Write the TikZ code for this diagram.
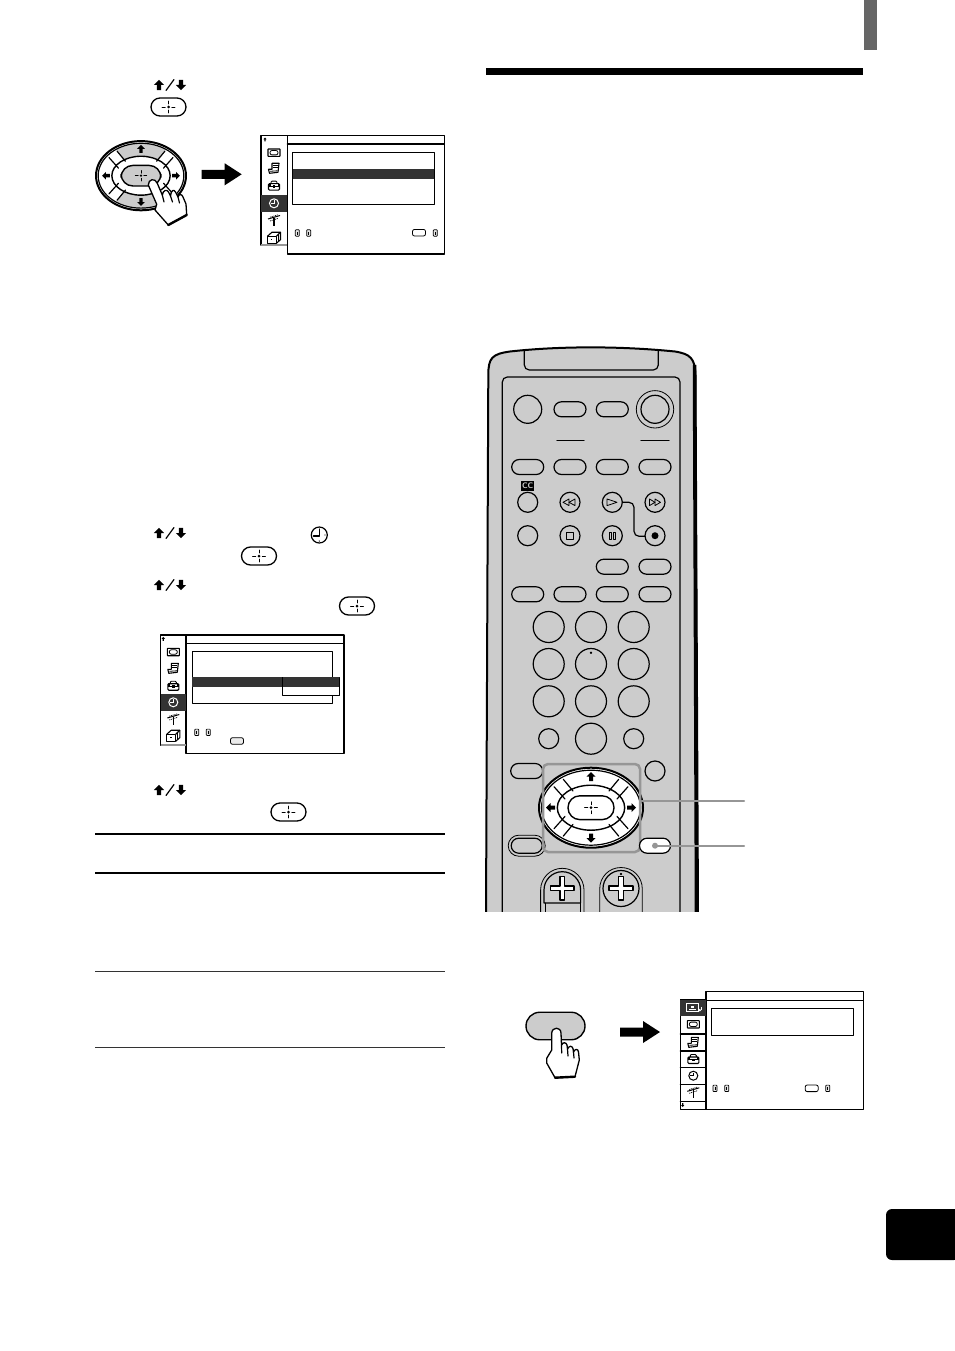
\documentclass[tikz,border=0pt]{standalone}
\usepackage{xcolor}
\usepackage{tikz}

\definecolor{fillColor}{RGB}{255,255,255}
\definecolor{drawColor}{RGB}{0,0,0}
\definecolor{bodyColor}{RGB}{204,204,204}
\definecolor{leadColor}{RGB}{150,150,150}
\definecolor{darkColor}{RGB}{51,51,51}
\definecolor{barColor}{RGB}{102,102,102}

\tikzset{
  ink/.style={draw=drawColor,line width=1.2pt,line join=round,line cap=round},
  thinink/.style={draw=drawColor,line width=0.8pt,line join=round,line cap=round},
  lead/.style={draw=leadColor,line width=2pt,line cap=round},
  key/.style={ink,fill=bodyColor}
}

% one rounded key: x, y, width, height
\newcommand{\pillkey}[5][key]{\path[#1,rounded corners=#5/2*1pt] ({#2-#4/2},{#3-#5/2}) rectangle ({#2+#4/2},{#3+#5/2});}
\newcommand{\roundkey}[3]{\path[key] (#1,#2) circle (#3);}
\newcommand{\crosshair}[2]{
\begin{scope}[shift={(#1,#2)}]
\path[fill=drawColor] (0,0) circle (1.5);
\path[thinink] (-6.5,0) -- (-3.2,0);
\path[thinink] ( 3.2,0) -- ( 6.5,0);
\path[thinink] (0,-6) -- (0,-3);
\path[thinink] (0, 3) -- (0, 6);
\end{scope}}
% x, y, rotation, scale
\newcommand{\blockarrow}[4]{
\path[fill=drawColor,shift={(#1,#2)},rotate=#3,scale=#4] (0,-4.5) -- (4.5,0) -- (2,0) -- (2,4.5) -- (-2,4.5) -- (-2,0) -- (-4.5,0) -- cycle;}
\newcommand{\updown}[2]{
\blockarrow{#1-11}{#2}{0}{1.12}
\blockarrow{#1+11}{#2}{180}{1.12}
\path[ink] ({#1-4},{#2+5.5}) -- ({#1+4},{#2-5.5});}
\newcommand{\enterkey}[2]{
\pillkey[ink,fill=fillColor,line width=1.3pt]{#1}{#2}{35}{18}
\crosshair{#1}{#2}}
% x, y, scale, colour of the up and down keys
\newcommand{\arrowpad}[4]{
\begin{scope}[shift={(#1,#2)},scale=#3]
\path[draw=drawColor,line width=2pt,fill=fillColor] (0,0) ellipse (52 and 40);
\begin{scope}
\path[clip] (-27.7,-42) -- (27.7,-42) -- (27.7,-28.4) -- (18,-16.7) -- (-18,-16.7) -- (-27.7,-28.4) -- cycle;
\path[fill=#4] (0,0) ellipse (49.5 and 37.5);
\end{scope}
\begin{scope}
\path[clip] (-27.7,42) -- (27.7,42) -- (27.7,28.4) -- (18,16.7) -- (-18,16.7) -- (-27.7,28.4) -- cycle;
\path[fill=#4] (0,0) ellipse (49.5 and 37.5);
\end{scope}
\path[ink] (0,0) ellipse (49.5 and 37.5);
\path[ink,fill=fillColor,line width=1.4pt] (0,0) ellipse (33.7 and 22.5);
\path[ink,fill=#4,line width=1.4pt,rounded corners=11.8pt] (-23,-11.9) rectangle (23,11.9);
\path[ink] (-27.7,-28.4) -- (-18,-16.7);
\path[ink] (-37,-21) -- (-26,-8.7);
\path[ink] ( 27.7,-28.4) -- ( 18,-16.7);
\path[ink] ( 37,-21) -- ( 26,-8.7);
\path[ink] (-27.7, 28.4) -- (-18, 16.7);
\path[ink] (-37, 21) -- (-26, 8.7);
\path[ink] ( 27.7, 28.4) -- ( 18, 16.7);
\path[ink] ( 37, 21) -- ( 26, 8.7);
\blockarrow{0}{-31}{0}{1}
\blockarrow{0}{30.5}{180}{1}
\blockarrow{-40.5}{0}{90}{1}
\blockarrow{40.5}{0}{-90}{1}
\crosshair{0}{0}
\end{scope}}
\newcommand{\bigarrow}[3]{
\path[fill=drawColor,shift={(#1,#2)},xscale=#3] (0,-4.5) -- (23,-4.5) -- (23,-11) -- (40,0) -- (23,11) -- (23,4.5) -- (0,4.5) -- cycle;}
% menu icons: x, y, colour
\newcommand{\iconwide}[3]{
\path[draw=#3,line width=1.1pt,shift={(#1,#2)},rounded corners=0.5pt] (-6,-3.7) rectangle (6,3.7);
\path[draw=#3,line width=0.8pt,shift={(#1,#2)},rounded corners=2pt] (-4,-2.2) rectangle (4,2.2);}
\newcommand{\iconbook}[3]{
\begin{scope}[shift={(#1,#2)}]
\path[draw=#3,line width=1.1pt,line join=round] (-2,-5) -- (5,-5) -- (4,4) -- (-4.5,5) -- (-5.5,1) -- (-2,1) -- cycle;
\path[draw=#3,line width=0.8pt] (-1,-2.5) -- (3.5,-2.5);
\path[draw=#3,line width=0.8pt] (-1,-0.5) -- (3.5,-0.5);
\path[draw=#3,line width=0.8pt] (-4,3) -- (3.5,2.5);
\end{scope}}
\newcommand{\iconcase}[3]{
\begin{scope}[shift={(#1,#2)}]
\path[draw=#3,line width=1.1pt,rounded corners=1pt] (-5.5,-2) rectangle (5.5,4.5);
\path[draw=#3,line width=0.9pt,rounded corners=1pt] (-3,-2) -- (-3,-4.5) -- (3,-4.5) -- (3,-2);
\path[draw=#3,line width=0.9pt] (-5.5,0.8) -- (5.5,0.8);
\path[fill=#3] (-1.2,-0.4) rectangle (1.2,2);
\path[fill=#3] (-5.5,-2) rectangle (-3.5,0.8);
\path[fill=#3] ( 3.5,-2) rectangle ( 5.5,0.8);
\end{scope}}
\newcommand{\iconclock}[3]{
\begin{scope}[shift={(#1,#2)}]
\path[draw=#3,line width=1pt] (0,0) circle (4.5);
\path[draw=#3,line width=0.7pt] (0,-3) -- (0,0) -- (-3,0);
\end{scope}}
\newcommand{\iconant}[3]{
\begin{scope}[shift={(#1,#2)}]
\path[draw=#3,line width=1.1pt] (0,-2) -- (0,5.5);
\path[draw=#3,line width=1pt] (-6,-1) -- (6,-4.5);
\path[draw=#3,line width=0.7pt,dash pattern=on 1pt off 0.8pt] (-4,-2.8) -- (4,-5.2);
\path[draw=#3,line width=0.7pt,dash pattern=on 1pt off 0.8pt] (-4,1) -- (4,-1.6);
\end{scope}}
\newcommand{\iconbox}[3]{
\begin{scope}[shift={(#1,#2)}]
\path[draw=#3,line width=1.1pt,line join=round] (-6.5,-1.5) rectangle (2.5,5.5);
\path[draw=#3,line width=1.1pt,line join=round] (-6.5,-1.5) -- (-2,-5.5) -- (6.5,-5.5) -- (6.5,2) -- (2.5,5.5);
\path[draw=#3,line width=1.1pt] (2.5,-1.5) -- (6.5,-5.5);
\path[draw=#3,line width=0.9pt] (4.4,-3.5) -- (4.4,3.6);
\path[fill=#3] (-3.2,1.2) rectangle (-1.8,2.6);
\end{scope}}
\newcommand{\iconscreen}[3]{
\begin{scope}[shift={(#1,#2)}]
\path[draw=#3,line width=1.2pt] (-6.5,-4) rectangle (5,3.5);
\path[fill=#3] (-2.5,-1.5) rectangle (1,0.5);
\path[fill=#3] (-4,1) rectangle (2.5,2);
\path[fill=#3] (6.5,2.5) circle (1.3);
\path[draw=#3,line width=0.7pt] (7.6,2.5) -- (7.6,-1);
\end{scope}}
\newcommand{\minikey}[2]{
\path[draw=drawColor,line width=0.7pt,fill=bodyColor!50,rounded corners=0.7pt] ({#1-2},{#2-3.2}) rectangle ({#1+2},{#2+3.2});
\path[draw=drawColor,line width=0.6pt] (#1,{#2-1.5}) -- (#1,{#2+1.5});}
\newcommand{\minipad}[3]{
\path[thinink,fill=#3,rounded corners=2pt] ({#1-6.5},{#2-3.3}) rectangle ({#1+6.5},{#2+3.3});}

\begin{document}
\begin{tikzpicture}[x=1pt,y=-1pt]
\path[use as bounding box,fill=fillColor] (0,0) rectangle (954,1351);

\path[fill=barColor] (864,0) rectangle (877,50);
\path[fill=drawColor] (486,68) rectangle (863,75);
\path[fill=drawColor,rounded corners=6pt] (960,1209) -- (886,1209) -- (886,1260) -- (960,1260) -- cycle;

% left column, step keys
\updown{170}{85}
\enterkey{168.5}{107}
\updown{170}{533}
\path[ink] (319.3,535) circle (8);
\path[ink] (319.3,529) -- (319.3,536) -- (313.5,536);
\path[fill=drawColor] (319.3,541) circle (0.7);
\path[fill=drawColor] (325,535) circle (0.7);
\enterkey{259}{556}
\updown{170}{585}
\enterkey{357}{606}
\updown{170}{790}
\enterkey{288.5}{812}

\path[draw=drawColor,line width=2pt] ( 95,834) -- (445,834);
\path[draw=drawColor,line width=2pt] ( 95,873) -- (445,873);
\path[draw=darkColor,line width=1pt] ( 95,971) -- (445,971);
\path[draw=darkColor,line width=1pt] ( 95,1047.5) -- (445,1047.5);

% pad with the pressing hand
\arrowpad{141}{175.7}{0.865}{bodyColor}
\path[ink,fill=fillColor,line width=1.3pt] (148.3,185) .. controls (148.3,179) and (155,177.5) .. (157.3,183.3) -- (162.3,195) .. controls (163,190) and (167,189) .. (168.5,192) -- (170.5,196) .. controls (171,190) and (174,189) .. (175.5,192) -- (178,197) .. controls (179,193.5) and (182,194) .. (183,197) -- (186,204) -- (186.7,215) -- (168.3,225) -- (155,210) -- (156.7,204.3) -- cycle;
\path[ink] (162.3,195) -- (164,202);
\path[ink] (170.5,196) -- (172.5,202);
\path[ink] (178,197) -- (179.5,203);
\path[draw=drawColor,line width=2.4pt,line cap=round] (168.3,225) -- (186.7,215);
\bigarrow{201.7}{174.3}{1}

% menu, first panel
\path[ink] (287.3,135.7) rectangle (444.3,254);
\path[ink,fill=fillColor] (261,135.7) rectangle (287.3,245);
\path[draw=leadColor,line width=1.5pt] (261,245) -- (287.3,245);
\path[ink] (287.3,144) -- (444.3,144);
\path[ink] (292.7,152.3) rectangle (434.3,204.3);
\path[fill=darkColor] (292.7,169) rectangle (434.3,179);
\path[fill=darkColor] (261,195) rectangle (287.3,211.7);
\path[fill=drawColor] (265,137.5) -- (266.7,139.5) -- (265.6,139.5) -- (265.6,141.5) -- (264.4,141.5) -- (264.4,139.5) -- (263.3,139.5) -- cycle;
\iconwide{274}{152.7}{drawColor}
\iconbook{274}{168.3}{drawColor}
\iconcase{274}{185.7}{drawColor}
\iconclock{274}{203.3}{fillColor}
\iconant{274}{220}{drawColor}
\iconbox{274}{237.7}{drawColor}
\minikey{297.3}{233}
\minikey{308.7}{233}
\minipad{419}{232.7}{fillColor}
\minikey{435.3}{233}

% menu, second panel
\path[ink] (186,635) rectangle (344,753.3);
\path[ink,fill=fillColor] (160.7,635) rectangle (186,745);
\path[draw=leadColor,line width=1.5pt] (160.7,745) -- (186,745);
\path[ink] (186,643.3) -- (344,643.3);
\path[ink] (192.3,651.7) rectangle (332.7,703.3);
\path[fill=darkColor] (192.3,677.3) rectangle (281.7,686.7);
\path[thinink,fill=fillColor] (282.7,677.3) rectangle (339,695);
\path[fill=darkColor] (282.7,677.3) rectangle (339,686.7);
\path[fill=darkColor] (160.7,694) rectangle (186,710.7);
\path[fill=drawColor] (163.3,636.8) -- (165,638.8) -- (163.9,638.8) -- (163.9,640.8) -- (162.7,640.8) -- (162.7,638.8) -- (161.6,638.8) -- cycle;
\iconwide{173.3}{652}{drawColor}
\iconbook{173.3}{668.3}{drawColor}
\iconcase{173.3}{685.7}{drawColor}
\iconclock{173.3}{702.3}{fillColor}
\iconant{173.3}{719}{drawColor}
\iconbox{173.3}{735.7}{drawColor}
\minikey{196.7}{732.3}
\minikey{208.3}{732.3}
\minipad{237}{741}{bodyColor!40}

% remote control
\begin{scope}
\path[clip] (480,340) rectangle (705,911);
\path[fill=bodyColor,draw=drawColor,line width=2pt] (486,915) -- (488.3,375) .. controls (488.3,358) and (492,354) .. (510,351.5) .. controls (560,346) and (620,346) .. (675,351.5) .. controls (690,354) and (695,358) .. (695.5,375) -- (698,915);
\path[draw=drawColor,line width=3.5pt] (694.5,365) -- (696.5,915);
\path[ink,rounded corners=5pt] (524.3,350) -- (524.3,370) -- (658.3,370) -- (658.3,350);
\path[ink,rounded corners=5pt] (502.3,915) -- (502.3,377) -- (680,377) -- (680,915);

\roundkey{527.7}{409.3}{14}
\pillkey{570}{409.3}{32}{15}
\pillkey{612.3}{409.3}{32}{15}
\path[thinink] (655,409.3) circle (18.7);
\roundkey{655}{409.3}{14}
\path[ink] (557,440.3) -- (584,440.3);
\path[ink] (641,440.3) -- (669,440.3);
\pillkey{527.7}{467}{32}{15}
\pillkey{570}{467}{32}{15}
\pillkey{612.3}{467}{32}{15}
\pillkey{655}{467}{32}{15}
\node[name=ccmark,fill=drawColor,text=bodyColor,inner sep=0pt,minimum width=13pt,minimum height=10pt,font=\sffamily\bfseries\fontsize{8}{8}\selectfont] at (527.7,485.7) {CC};
\roundkey{527.7}{502.3}{10}
\roundkey{570}{502.3}{10}
\roundkey{612.3}{502.3}{10}
\roundkey{655}{502.3}{10}
\roundkey{527.7}{535.7}{10}
\roundkey{570}{535.7}{10}
\roundkey{612.3}{535.7}{10}
\roundkey{655}{535.7}{10}
% signs on the tape keys
\path[thinink] (563,502.3) -- (569,499) -- (569,505.6) -- cycle;
\path[thinink] (569,502.3) -- (575,499) -- (575,505.6) -- cycle;
\path[thinink] (607,499) -- (607,505.6) -- (617,502.3) -- cycle;
\path[thinink] (649.5,499) -- (649.5,505.6) -- (655,502.3) -- cycle;
\path[thinink] (655,499) -- (655,505.6) -- (660.5,502.3) -- cycle;
\path[thinink] (566.8,532.5) rectangle (573.2,538.9);
\path[thinink] (609.3,532.5) rectangle (611.5,538.9);
\path[thinink] (613.1,532.5) rectangle (615.3,538.9);
\path[fill=drawColor] (655,535.7) circle (3.5);
\coordinate (playKey) at (622.3,502.3);
\coordinate (recKey) at (645,536.3);
\path[ink,rounded corners=5pt] (playKey) -- (634,502.3) -- (634,536.3) -- (recKey);
\pillkey{612.3}{566.7}{32}{15}
\pillkey{655}{566.7}{32}{15}
\pillkey{527.7}{594.3}{32}{15}
\pillkey{570}{594.3}{32}{15}
\pillkey{612.3}{594.3}{32}{15}
\pillkey{655}{594.3}{32}{15}
\roundkey{548.7}{627}{15.5}
\roundkey{591}{627}{15.5}
\roundkey{633.7}{627}{15.5}
\roundkey{548.7}{664}{15.5}
\roundkey{591}{664}{15.5}
\roundkey{633.7}{664}{15.5}
\path[thinink] (591,652.7) circle (0.8);
\roundkey{548.7}{701.3}{15.5}
\roundkey{591}{701.3}{15.5}
\roundkey{633.7}{701.3}{15.5}
\roundkey{548.7}{738.7}{10}
\roundkey{591}{738.7}{15.5}
\roundkey{633.7}{738.7}{10}
\pillkey{526.7}{771}{32}{15}
\roundkey{655}{771}{10}
\pillkey[thinink,fill=bodyColor]{526.7}{845.7}{37}{21}
\pillkey{526.7}{845.7}{31}{15}
\arrowpad{591}{807.7}{1}{fillColor}
\path[draw=leadColor,line width=2.5pt,rounded corners=5pt] (543,764) rectangle (640,852);
\pillkey[ink,fill=fillColor]{655}{845.7}{31}{15}

% volume and channel keys
\path[thinink] (540.6,915) -- (540.6,890) .. controls (540.6,878) and (550.3,868.3) .. (562.3,868.3) .. controls (574.3,868.3) and (584,878) .. (584,890) -- (584,915);
\path[ink] (544,903) -- (544,890) .. controls (544,879.9) and (552.2,871.7) .. (562.3,871.7) .. controls (572.4,871.7) and (580.6,879.9) .. (580.6,890) -- (580.6,903) -- cycle;
\path[thinink] (545,903) -- (545,915);
\path[thinink] (580,903) -- (580,915);
\path[thinink] (599.7,915) -- (599.7,889) .. controls (599.7,877) and (609,867.5) .. (621,867.5) .. controls (633,867.5) and (642.3,877) .. (642.3,889) -- (642.3,915);
\path[ink] (621,888.5) circle (18);
\path[ink,fill=fillColor] (560,876.5) -- (564.6,876.5) -- (564.6,886) -- (574,886) -- (574,890.6) -- (564.6,890.6) -- (564.6,900) -- (560,900) -- (560,890.6) -- (550.6,890.6) -- (550.6,886) -- (560,886) -- cycle;
\path[ink,fill=fillColor] (618.8,876.5) -- (623.2,876.5) -- (623.2,886) -- (633,886) -- (633,890.6) -- (623.2,890.6) -- (623.2,900) -- (618.8,900) -- (618.8,890.6) -- (609,890.6) -- (609,886) -- (618.8,886) -- cycle;
\path[thinink] (621,874) circle (0.9);
\end{scope}

% leaders out of the remote
\coordinate (padEdge) at (641.7,800.7);
\coordinate (padEnd) at (744,800.7);
\coordinate (menuDot) at (655,845.7);
\coordinate (menuEnd) at (744,845.7);
\path[lead] (padEdge) -- (padEnd);
\path[fill=leadColor] (menuDot) circle (3);
\path[lead] (menuDot) -- (menuEnd);

% menu key with the pressing hand
\pillkey[key,line width=1.4pt]{555.5}{1026}{59}{27.5}
\path[ink,fill=fillColor,line width=1.3pt] (551.7,1033.3) .. controls (552,1026.5) and (561,1026.5) .. (561,1033.3) -- (561.5,1045) .. controls (563,1042) and (566,1042) .. (567,1045) -- (567.5,1049) .. controls (569,1045.5) and (572,1045.5) .. (573,1048.5) -- (573.5,1052) .. controls (575,1048.5) and (578,1048.5) .. (578.5,1052) -- (579.3,1060) -- (575,1076.7) -- (555,1077.7) -- (546.7,1063) -- (546.7,1058.3) -- (551.7,1050) -- cycle;
\path[ink] (561.5,1045) -- (561.7,1053);
\path[ink] (567.5,1049) -- (568,1056);
\path[ink] (573.5,1052) -- (574,1058);
\path[draw=drawColor,line width=2.4pt,line cap=round] (555,1077.7) -- (575,1076.7);
\bigarrow{620}{1032}{1}

% menu, third panel
\path[ink] (706,991.3) rectangle (863.3,1109.3);
\path[ink,fill=fillColor] (680.3,999.7) rectangle (706,1109.3);
\path[ink] (706,1000.3) -- (863.3,1000.3);
\path[ink] (711.7,1008.3) rectangle (853.3,1035.3);
\path[fill=darkColor] (680.3,999.7) rectangle (706,1016.3);
\path[ink] (680.3,1034) -- (706,1034);
\path[ink] (680.3,1051) -- (706,1051);
\path[ink] (680.3,1067.7) -- (706,1067.7);
\path[ink] (680.3,1084.3) -- (706,1084.3);
\path[ink] (680.3,1101.3) -- (706,1101.3);
\path[fill=drawColor] (682.7,1107) -- (684.4,1105) -- (683.3,1105) -- (683.3,1103) -- (682.1,1103) -- (682.1,1105) -- (681,1105) -- cycle;
\iconscreen{693.3}{1007.7}{fillColor}
\iconwide{693.3}{1024.3}{drawColor}
\iconbook{693.3}{1042.3}{drawColor}
\iconcase{693.3}{1059}{drawColor}
\iconclock{693.3}{1075.7}{drawColor}
\iconant{693.3}{1092.3}{drawColor}
\minikey{715}{1088.3}
\minikey{726.7}{1088.3}
\minipad{811.7}{1088.3}{fillColor}
\minikey{827.7}{1088.3}
\end{tikzpicture}
\end{document}
